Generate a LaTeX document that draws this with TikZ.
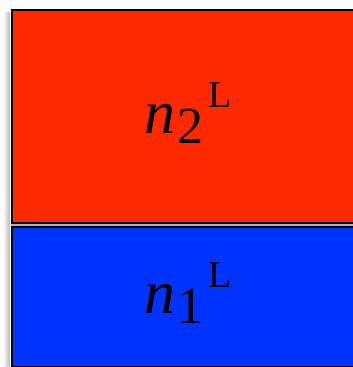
\documentclass[tikz,border=0pt]{standalone}
\usepackage{fontspec}
\setmainfont{Liberation Serif}
\definecolor{lred}{RGB}{255,41,0}
\definecolor{lblue}{RGB}{0,51,255}
\tikzset{
  layer/.style={draw=black, line width=2pt},
  lbl/.style={inner sep=0pt, anchor=base west}
}
\newcommand{\lab}[1]{{\fontsize{62}{62}\selectfont\textit{n}}\hspace{2pt}\raisebox{-10pt}{\fontsize{52}{52}\selectfont #1}\hspace{5pt}\raisebox{26pt}{\fontsize{38}{38}\selectfont L}}
\begin{document}
\begin{tikzpicture}[x=1pt,y=-1pt]
\useasboundingbox (0,0) rectangle (353,367);
\clip (0,0) rectangle (353,367);
\shade[left color=white, right color=black!28] (3,12) rectangle (10,367);
\fill[black!30] (11,222) rectangle (353,226);
\node[layer, fill=lred, minimum width=360pt, minimum height=213pt, anchor=north west, inner sep=0pt] (red) at (11,9) {};
\node[layer, fill=lblue, minimum width=360pt, minimum height=140pt, anchor=north west, inner sep=0pt] (blue) at (11,226) {};
\node[lbl] (t2) at (144,133) {\lab{2}};
\node[lbl] (t1) at (144,313) {\lab{1}};
\end{tikzpicture}
\end{document}
